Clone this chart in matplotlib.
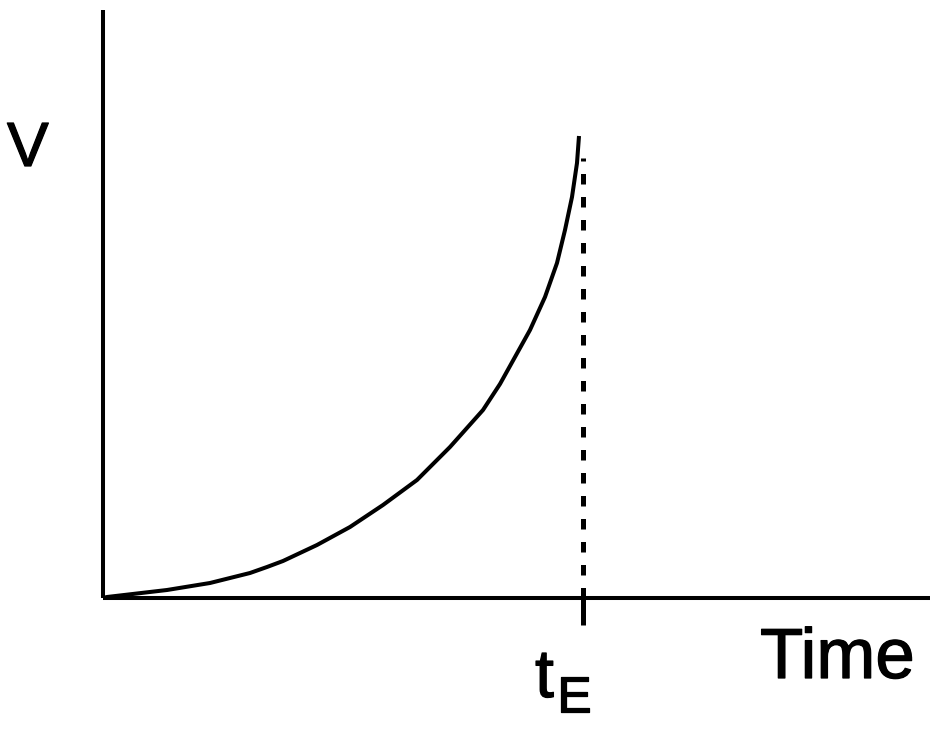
import matplotlib
matplotlib.use("Agg")
import matplotlib.pyplot as plt
import matplotlib.patheffects as pe

# Curve values (time, V)
t_vals = [0.0, 0.04, 0.64, 1.07, 1.27, 1.47, 1.64, 1.80, 2.14, 2.47, 2.80, 3.14,
          3.47, 3.80, 3.97, 4.27, 4.42, 4.54, 4.62, 4.69, 4.74, 4.76]
v_vals = [0.0, 0.01, 0.08, 0.15, 0.20, 0.25, 0.31, 0.37, 0.53, 0.71, 0.93, 1.18,
          1.51, 1.88, 2.14, 2.68, 3.01, 3.35, 3.68, 4.01, 4.35, 4.62]
t_E = 4.80
dash_top = 4.40
x_max = 8.27
y_max = 5.88

W, H = 938, 732
fig = plt.figure(figsize=(W / 100, H / 100), dpi=100)
ax = fig.add_axes([103 / W, (H - 598) / H, 827 / W, 588 / H])
ax.set_xlim(0, x_max)
ax.set_ylim(0, y_max)
for s in ("top", "right"):
    ax.spines[s].set_visible(False)
for s in ("left", "bottom"):
    ax.spines[s].set_linewidth(2.9)
    ax.spines[s].set_capstyle("butt")
ax.set_xticks([])
ax.set_yticks([])

ax.plot(t_vals, v_vals, color="black", lw=2.9, solid_capstyle="butt",
        solid_joinstyle="round", clip_on=False)
ax.plot([t_E, t_E], [0, dash_top], color="black", lw=3.6, dashes=(2.1, 2.5),
        dash_capstyle="butt")
ax.plot([t_E, t_E], [0, -0.27], color="black", lw=3.6, clip_on=False,
        solid_capstyle="butt")

def fx(px):
    return px / W

def fy(py):
    return (H - py) / H

font = ["Liberation Sans", "DejaVu Sans"]
eff = [pe.withStroke(linewidth=0.9, foreground="black")]
fig.text(fx(7), fy(166), "V", fontsize=45, family=font, ha="left", va="baseline",
         path_effects=eff)
fig.text(fx(760), fy(678), "Time", fontsize=51, family=font, ha="left", va="baseline",
         path_effects=eff)
fig.text(fx(535), fy(697), "t", fontsize=49, family=font, ha="left", va="baseline",
         path_effects=eff)
fig.text(fx(557), fy(712), "E", fontsize=37, family=font, ha="left", va="baseline",
         path_effects=eff)

fig.savefig("out.png", dpi=100, facecolor="white")
